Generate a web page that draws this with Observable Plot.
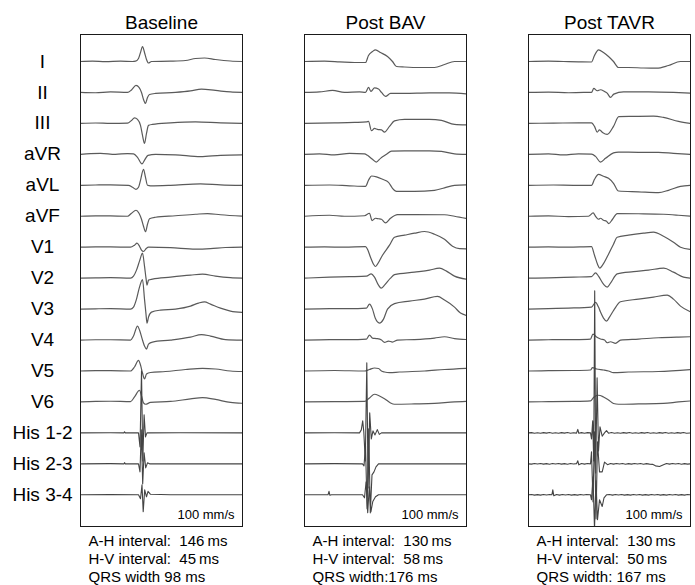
<!DOCTYPE html>
<html><head><meta charset="utf-8">
<script src="https://cdn.jsdelivr.net/npm/d3@7"></script>
<script src="https://cdn.jsdelivr.net/npm/@observablehq/plot@0.6"></script>
<style>body{margin:0;background:#fff}</style>
</head><body><div id="chart"></div>
<script>
const panels = ["Baseline", "Post BAV", "Post TAVR"];
const leads = ["I","II","III","aVR","aVL","aVF","V1","V2","V3","V4","V5","V6","His 1-2","His 2-3","His 3-4"];
const speedLabel = "100 mm/s";
const ahIntervals = ["A-H interval:\u00a0 146\u2009ms", "A-H interval:\u00a0 130\u2009ms", "A-H interval:\u00a0 130\u2009ms"];
const hvIntervals = ["H-V interval:\u00a0 45\u2009ms", "H-V interval:\u00a0 58\u2009ms", "H-V interval:\u00a0 50\u2009ms"];
const qrsWidths = ["QRS width 98 ms", "QRS width:176 ms", "QRS width: 167 ms"];

// Each trace: flat list of [time, amplitude] pairs (time 0-162 across the panel, amplitude up = positive)
const baselineTraces = [
  [0,0, 12,0.4, 25,-0.2, 40,0.3, 52,0, 55,0.3, 58,3, 60,9, 62,15, 64,9, 66,2, 68,-1.5, 71,0, 90,0.3, 105,1, 115,3, 124,3.5, 135,2, 150,0.5, 162,0],
  [0,0, 15,-0.3, 30,0.5, 47,0, 51,2.5, 55.5,7, 58.5,5, 61,0, 63,-7, 65,-11, 67,-5, 69,-2, 75,-1, 95,0, 110,1.5, 121,3.3, 135,2, 150,0.5, 162,0],
  [0,0, 15,0.4, 30,0, 47,0.3, 51,3, 54,5.5, 57,4, 60,-2, 62,-12, 64,-20, 66,-10, 68,-2, 72,-1, 90,0.5, 115,1.5, 140,0.5, 162,0],
  [0,0, 10,0.8, 20,1, 35,0, 47,0.8, 53,0.5, 57,-3, 61.5,-9.5, 64.5,-5, 67.5,-1, 75,0, 95,-0.5, 120,-2.3, 140,-1, 162,-0.5],
  [0,0, 15,0.3, 30,0.5, 48,0, 52,-2, 55.5,-4, 58,-2, 60,5, 63,16, 65,8, 67,0, 70,-0.5, 90,0, 120,1.5, 140,0.5, 162,0],
  [0,0, 15,0.4, 30,0.3, 47,0, 51,3, 55.5,6, 58.5,3, 61,-3, 63,-10, 65,-15.5, 67,-8, 69,-2.5, 75,-1, 95,0.5, 115,2, 127,2.7, 140,1.5, 162,0],
  [0,0, 15,0.3, 30,0.3, 50,0, 54,2, 56.5,4, 59,1, 61,-3, 63,-4.3, 66,-1, 68,0, 90,-0.5, 115,-2, 130,-1.5, 145,-0.3, 162,0],
  [0,0, 15,0.3, 30,0.5, 50,0, 53,2, 56,8, 59,17, 62,25, 64,12, 65.5,0, 66.5,-7, 68,-2, 72,-1, 90,1, 110,3, 122,4, 135,2, 150,0.5, 162,0],
  [0,0, 15,0.3, 30,0.5, 50,0, 53,2, 56,10, 59,22, 62,29.5, 64,10, 65.5,-5, 66.5,-14, 68,-8, 71,-3, 80,-1, 95,0, 110,3, 118,6, 124,7.3, 130,5, 140,1, 150,-2, 162,-3.3],
  [0,0, 15,0.3, 30,0.3, 50,0, 53,4, 57,14, 59,10, 62,0, 64,-6, 66,-9, 68,-4, 72,-2, 90,0, 110,3, 121,5.5, 130,4, 145,0.5, 162,0],
  [0,0, 15,0.3, 30,0.3, 50,0, 54,4, 58,10.7, 60,6, 62,-2, 64,-8, 66,-3, 70,-1.5, 85,-0.5, 105,1.5, 122,2.7, 135,2, 150,0, 162,-0.5],
  [0,0, 15,0.5, 30,0.7, 50,0.3, 54,5, 59,11.7, 61,6, 63,-1, 65,-2.3, 70,-0.5, 90,0.5, 110,3, 122,4.3, 135,2.5, 150,-0.5, 162,-1.3],
  [0,0, 30,0.2, 43.5,0, 44,1.2, 44.8,0, 58,0, 59.5,-14, 61,62, 62.3,-28, 63.6,18, 65,-4, 66.5,0, 100,0.2, 162,0],
  [0,0, 30,0.2, 43.5,0, 44,1.2, 44.8,0, 58,0, 59.5,-8, 60.8,34, 62.2,-20, 63.6,11, 65.2,-4, 67,1, 69,0, 162,0],
  [0,0, 30,0.2, 58,0, 60,-4, 61.5,10, 62.7,-17, 64.2,5, 66,-2, 67.5,3.5, 70,0.5, 90,0, 162,0]
];
const postBavTraces = [
  [0,0, 20,0.3, 35,-0.3, 50,-1, 61,-1, 64,6, 68,10, 71,11.7, 76,9, 83,5, 88,0, 92,-5, 100,-5.5, 115,-6, 130,-6, 140,-3, 150,0, 162,0],
  [0,0, 15,0.5, 28,2, 40,0, 55,0.5, 61,0, 64,5, 66.5,1, 70,4.5, 74,3.5, 77,0, 81,-4, 86,-1, 100,-1, 125,-0.5, 145,-0.5, 162,-1.5],
  [0,0, 30,0.5, 50,1, 62,1.5, 64,2, 67,-7.3, 70,-5, 73,-6, 77,-6.5, 80,-8.7, 85,-3, 90,2.5, 100,4, 125,4, 137,3, 150,-1, 162,-1.5],
  [0,0, 15,0.5, 30,-0.5, 45,1, 60,0.5, 63,-1, 68,-5, 71.7,-7.7, 76,-4, 82,0, 87,3.3, 100,3.5, 125,3.5, 137,3, 150,0.5, 162,0],
  [0,0, 25,0.3, 45,-0.5, 61,-1, 64,5, 67,9.3, 72,8.5, 78,6, 84,3, 88,-3, 92,-6, 110,-6, 130,-5, 140,-2.5, 150,0, 162,0.5],
  [0,0, 25,1, 40,0, 60,0.5, 65,3, 67.5,-4.3, 71,-2, 74,-2.5, 77,-3, 81,-6.7, 86,-2, 93,1.7, 110,1.7, 140,1.5, 150,0, 162,-2.3],
  [0,0, 20,0.3, 40,0, 61,0.5, 63,-2, 66,-10, 69,-17, 71,-19.3, 73,-17, 78,-8, 85,2, 90,10, 100,12, 110,14, 120,15.7, 130,13, 140,8, 148,1, 155,-1.5, 162,-1.7],
  [0,0, 25,1, 45,1.5, 62,2, 66.7,4.3, 70,1, 74,-7, 76.7,-10, 80,-7, 86,0, 90,3.5, 110,6, 125,8, 135,10, 142,7, 150,2, 162,-1],
  [0,0, 25,0.5, 45,0.5, 62,1, 65,5, 68,0, 70.7,-9, 75,-14, 79,-10, 83,0, 90,5.5, 105,8, 120,10, 133,12.7, 140,9, 150,2, 156,-4, 162,-6.3],
  [0,0, 25,0.5, 45,0.5, 62,1, 65,5, 68,2, 72,1.5, 77,0, 80,-2.3, 84,-1, 88,-2, 93,0, 110,0.5, 130,2, 140,3.3, 150,1.5, 162,0.5],
  [0,0, 30,0.5, 60,0, 65,1.5, 70,3, 74,2.5, 77,0, 80,-1, 85,-1.7, 95,-1, 120,0, 140,1.5, 162,2.7],
  [0,0, 30,0.3, 60,0.5, 65,4, 70,7.7, 75,6, 80,3.3, 86,-1, 90,-2.3, 110,-2, 130,-1.5, 150,0, 162,0.5],
  [0,0, 30,0.2, 55,0, 56.8,3, 58.2,12, 59.3,1, 60.8,-28, 62.3,70, 63.6,-55, 65.2,20, 66.8,-6, 68.5,2, 70.5,-2, 72.8,3.3, 74.8,-1.5, 77,0, 162,0],
  [0,0, 30,0.2, 58,0, 59.5,-2, 61,18, 62.6,-45, 64.2,35, 65.8,-49, 67.5,-11, 69.5,-8, 71.5,-3, 74,0, 162,0],
  [0,0, 23.5,0, 24.5,3.5, 25.4,-0.5, 27,0, 58,0, 60,-3, 61.6,13, 63.2,-18, 64.8,8, 66.4,-17, 68.3,-6.7, 71,-2, 74,0, 162,0]
];
const postTavrTraces = [
  [0,0, 20,0.3, 35,0, 50,-0.3, 63,-0.5, 66,6, 70,11.7, 75,9, 80,5, 85,0, 90,-6, 100,-6, 115,-6.5, 128,-6.7, 140,-4, 152,0, 162,0],
  [0,0, 20,0.3, 40,-0.3, 55,0, 63,0, 65.3,4, 68.7,1.7, 72,2.7, 76,1, 78.7,-0.7, 82,-5, 85.3,-1.7, 95,0.5, 120,0.5, 145,0, 162,-0.7],
  [0,0, 25,0.3, 50,0.5, 63,0.5, 66,-3, 68.7,-8.7, 71,-6.5, 74,-9, 78.7,-11, 85,-3, 90.3,6.7, 105,7, 125,7.3, 135,6, 150,2, 162,0],
  [0,0, 20,0.5, 35,-0.5, 50,0.5, 63,0.3, 67,-2, 72,-7.7, 77,-4, 85,1.5, 90,2.3, 110,2, 130,2, 145,1, 162,0],
  [0,0, 25,0.3, 45,0, 63,0, 66,6, 70,11, 75,9, 80,7, 85,2, 90,-5.7, 110,-6.5, 130,-7.3, 140,-5, 152,-1, 162,0],
  [0,0, 20,0.3, 40,-0.3, 60,0, 64.7,3.3, 67,0, 70,-3, 72,-2, 75,-4, 78,-5, 80.3,-7.3, 84,-3, 88.7,2.7, 110,2.5, 135,2, 150,1, 162,0],
  [0,0, 20,0.3, 40,0, 63,0.5, 66,-8, 69,-17, 71.3,-21, 74,-18, 80,-7, 85,3, 88.7,10, 100,12, 115,14, 125,15, 135,11, 145,5, 152,0, 162,-2.3],
  [0,0, 20,0.3, 45,1, 63,1.5, 67,5.3, 70,2, 75,-6, 78.7,-9, 82,-5, 88.7,4.3, 105,6.5, 120,8, 135.3,10, 145,6, 155,1, 162,0],
  [0,0, 20,0.5, 40,1, 63,2, 67,6.7, 70,2, 72,-3, 75,-9, 78,-12, 81,-8, 85.3,-1, 92,7.3, 110,10, 125,12, 138.7,14, 145,10, 152,3, 162,-2.7],
  [0,0, 20,0.3, 45,0.5, 62,1, 64.5,6, 68,3, 72,1, 76,0, 78.7,-2.7, 82,-1.7, 87,-3.3, 92,0, 110,1, 130,2.3, 150,3, 162,3.3],
  [0,0, 20,0.3, 45,0.5, 62,1, 64,3.3, 68,2, 75,1, 80,0, 85,-1.7, 100,-1, 130,-0.5, 162,1.5],
  [0,0, 20,0.3, 45,0.5, 62,1, 65,4.5, 70,6.7, 75,5, 80,2, 85,-1.5, 90,-2.3, 110,-2, 135,-1.5, 150,0, 162,1],
  [0,0, 3,0.3, 6,-0.3, 9,0.2, 12,-0.35, 15,0.3, 18,-0.2, 21,0.35, 24,-0.3, 27,0.2, 30,-0.35, 33,0.3, 36,-0.2, 39,0.35, 42,-0.3, 45,0.2, 48,-0.2, 49.3,3.5, 50.3,-0.4, 53,0.3, 56,-0.3, 59,0.3, 62,0, 63,-6, 64.2,12, 65.2,-28, 66.2,142, 67.2,-40, 68.6,55, 70,-18, 71.5,6, 73.7,-3.3, 76,0, 78,2.3, 80,-0.3, 83,0.35, 86,-0.3, 89,0.2, 92,-0.35, 95,0.3, 98,-0.2, 101,0.35, 104,-0.3, 107,0.2, 110,-0.35, 113,0.3, 116,-0.2, 119,0.35, 122,-0.3, 125,0.2, 128,-0.35, 131,0.3, 134,-0.2, 137,0.35, 140,-0.3, 143,0.2, 146,-0.35, 149,0.3, 152,-0.2, 155,0.35, 158,-0.3, 162,0],
  [0,0, 3,-0.3, 6,0.3, 9,-0.2, 12,0.35, 15,-0.3, 18,0.2, 21,-0.35, 24,0.3, 27,-0.2, 30,0.35, 33,-0.3, 36,0.2, 39,-0.35, 42,0.3, 45,-0.2, 48,0.2, 49.3,3, 50.3,-1, 53,0.3, 56,-0.3, 59,0.3, 62,0, 63,12, 64.5,-38, 66,32, 67.5,-55, 69,22, 71,-8, 73.7,-8, 76,1.7, 79,-0.8, 82,0.3, 85,-0.3, 88,0.35, 91,-0.2, 94,0.3, 97,-0.35, 100,0.2, 103,-0.3, 106,0.35, 109,-0.2, 112,0.3, 115,-0.35, 118,0.2, 121,-0.3, 124,-0.5, 127,-2, 131,-2.7, 135,-1, 138,0.3, 141,-0.3, 144,0.35, 147,-0.2, 150,0.3, 153,-0.35, 156,0.2, 159,-0.3, 162,0],
  [0,0, 3,0.3, 6,-0.35, 9,0.2, 12,-0.3, 15,0.35, 18,-0.2, 21,0.3, 23.4,0, 24.3,5, 25.3,-1, 28,0.3, 31,-0.3, 34,0.35, 37,-0.2, 40,0.3, 43,-0.35, 46,0.2, 49,-0.3, 52,0.35, 55,-0.2, 58,0.3, 62,0, 63,-5, 64.5,18, 66,-34, 67.5,14, 69,-25, 71,-5, 73.7,-11.7, 75.5,-3, 78,0, 81,0.3, 84,-0.3, 87,0.35, 90,-0.2, 93,0.3, 96,-0.35, 99,0.2, 102,-0.3, 105,0.35, 108,-0.2, 111,0.3, 114,-0.35, 117,0.2, 120,-0.3, 123,0.35, 126,-0.2, 129,0.3, 132,-0.35, 135,0.2, 138,-0.3, 141,0.35, 144,-0.2, 147,0.3, 150,-0.35, 153,0.2, 156,-0.3, 159,0.35, 162,0]
];

const ROW = 30.95; // amplitude units per lead row
const rows = [];
[baselineTraces, postBavTraces, postTavrTraces].forEach((traces, p) => {
  traces.forEach((flat, i) => {
    for (let k = 0; k < flat.length; k += 2) {
      rows.push({panel: panels[p], lead: leads[i], idx: i, his: i >= 12, t: flat[k], v: flat[k + 1]});
    }
  });
});
const notes = panels.map((p, i) => ({panel: p, text: [ahIntervals[i], hvIntervals[i], qrsWidths[i]].join("\n")}));
const leadRows = leads.map((l, i) => ({panel: panels[0], lead: l, idx: i}));

const lineOpts = {fx: "panel", x: "t", y: d => d.idx - d.v / ROW, z: d => d.panel + d.lead, stroke: "#5a5a5a", strokeWidth: 1.2, clip: true};

const chart = Plot.plot({
  width: 695,
  height: 585,
  marginTop: 34,
  marginBottom: 59,
  marginLeft: 79,
  marginRight: 5,
  style: {fontFamily: "'Liberation Sans', Arial, Helvetica, sans-serif", background: "#fff", color: "#000"},
  fx: {domain: panels, paddingInner: 0.277, paddingOuter: 0, axis: null},
  x: {domain: [0, 162], axis: null},
  y: {domain: [14 + 31.7 / ROW, -27 / ROW], axis: null},
  marks: [
    Plot.line(rows.filter(d => !d.his), {...lineOpts, curve: "monotone-x"}),
    Plot.line(rows.filter(d => d.his), {...lineOpts, stroke: "#444", strokeWidth: 1.1, curve: "linear"}),
    Plot.frame({stroke: "#1a1a1a", strokeWidth: 1}),
    Plot.text(panels, {fx: d => d, text: d => d, frameAnchor: "top", lineAnchor: "bottom", dy: -6, fontSize: 19, fill: "#000"}),
    Plot.text(leadRows, {fx: "panel", y: "idx", text: "lead", frameAnchor: "left", dx: -38, textAnchor: "middle", lineAnchor: "middle", fontSize: 19, fill: "#000"}),
    Plot.text(panels, {fx: d => d, text: () => speedLabel, frameAnchor: "bottom-right", textAnchor: "end", lineAnchor: "middle", dx: -8, dy: -12, fontSize: 13, fill: "#000"}),
    Plot.text(notes, {fx: "panel", text: "text", frameAnchor: "bottom-left", textAnchor: "start", lineAnchor: "top", dx: 8, dy: 6, fontSize: 15, lineHeight: 1.22, fill: "#000"})
  ]
});
document.getElementById("chart").appendChild(chart);
</script>
</body></html>
